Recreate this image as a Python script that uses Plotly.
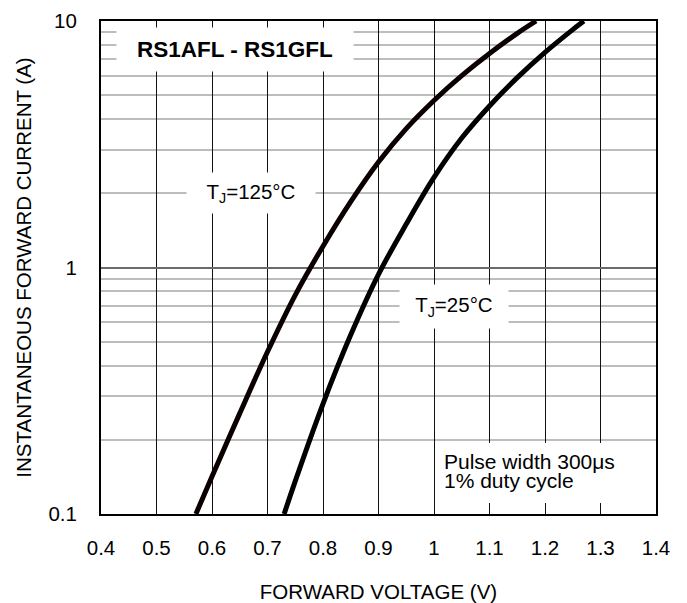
import plotly.graph_objects as go

# ---- data ----
v_125 = [0.571, 0.600, 0.650, 0.700, 0.750, 0.800, 0.850, 0.900, 0.950, 1.000, 1.050, 1.100, 1.150, 1.184]
i_125 = [0.10, 0.142, 0.256, 0.455, 0.773, 1.22, 1.85, 2.68, 3.66, 4.76, 6.00, 7.38, 8.91, 10.0]

v_25 = [0.730, 0.750, 0.800, 0.850, 0.900, 0.950, 1.000, 1.050, 1.100, 1.150, 1.200, 1.250, 1.270]
i_25 = [0.10, 0.136, 0.280, 0.533, 0.938, 1.50, 2.32, 3.35, 4.52, 5.89, 7.46, 9.23, 10.0]

x_ticks = [0.4, 0.5, 0.6, 0.7, 0.8, 0.9, 1.0, 1.1, 1.2, 1.3, 1.4]
x_ticktext = ["0.4", "0.5", "0.6", "0.7", "0.8", "0.9", "1", "1.1", "1.2", "1.3", "1.4"]
y_ticks = [0.1, 1, 10]
y_ticktext = ["0.1", "1", "10"]
y_minor = [0.2, 0.3, 0.4, 0.5, 0.6, 0.7, 0.8, 0.9, 2, 3, 4, 5, 6, 7, 8, 9]

FONT = "Liberation Sans, Arial, sans-serif"
FS = 20.5

fig = go.Figure()
fig.add_trace(go.Scatter(x=v_125, y=i_125, mode="lines",
                         line=dict(color="#0a0000", width=5, shape="spline", smoothing=1.0),
                         showlegend=False, hoverinfo="skip"))
fig.add_trace(go.Scatter(x=v_25, y=i_25, mode="lines",
                         line=dict(color="#000000", width=5, shape="spline", smoothing=1.0),
                         showlegend=False, hoverinfo="skip"))

# page shows the figure with an 8px body margin, so the figure is offset by 8px
fig.update_layout(
    width=679, height=595,
    margin=dict(l=93, r=31, t=13, b=89),
    paper_bgcolor="white", plot_bgcolor="white",
    font=dict(family=FONT, size=FS, color="#000"),
    xaxis=dict(
        range=[0.4, 1.4], tickmode="array", tickvals=x_ticks, ticktext=x_ticktext,
        showgrid=True, gridcolor="#111111", gridwidth=1,
        showline=True, linecolor="#000", linewidth=2, mirror=True,
        ticks="", ticklabelstandoff=14, zeroline=False, automargin=False,
        tickfont=dict(size=FS),
        title=dict(text="FORWARD VOLTAGE (V)", font=dict(size=FS), standoff=28),
    ),
    yaxis=dict(
        type="log", range=[-1, 1], tickmode="array", tickvals=y_ticks, ticktext=y_ticktext,
        showgrid=True, gridcolor="#6b6b6b", gridwidth=2,
        minor=dict(tickmode="array", tickvals=y_minor, showgrid=True,
                   gridcolor="#bdbdbd", gridwidth=2, ticks=""),
        showline=True, linecolor="#000", linewidth=2, mirror=True,
        ticks="", ticklabelstandoff=18, zeroline=False, automargin=False,
        tickfont=dict(size=FS),
        title=dict(text="INSTANTANEOUS FORWARD CURRENT (A)", font=dict(size=FS), standoff=11),
    ),
)

annos = [
    dict(x=0.6414, y=0.885, text="<b>RS1AFL - RS1GFL</b>", font=dict(size=22.5),
         width=230, height=37, borderpad=3),
    dict(x=0.6703, y=0.302, text="T<sub>J</sub>=125°C", font=dict(size=FS),
         width=122, height=34, borderpad=3),
    dict(x=1.036, y=-0.158, text="T<sub>J</sub>=25°C", font=dict(size=FS),
         width=102, height=37, borderpad=3),
]
for a in annos:
    fig.add_annotation(xref="x", yref="y", showarrow=False, bgcolor="white",
                       xanchor="center", yanchor="middle", **a)

# white box behind the pulse-width note (positions relative to the plot area)
fig.add_shape(type="rect", xref="paper", yref="paper",
              x0=(436 - 101) / 555, x1=(654 - 101) / 555,
              y0=(514 - 503) / 493, y1=(514 - 443) / 493,
              fillcolor="white", line=dict(width=0), layer="above")
fig.add_annotation(xref="paper", yref="paper", x=(443 - 101) / 555, y=(514 - 461) / 493,
                   text="Pulse width 300μs", showarrow=False, xanchor="left", yanchor="middle",
                   font=dict(size=21), borderpad=0)
fig.add_annotation(xref="paper", yref="paper", x=(443 - 101) / 555, y=(514 - 480) / 493,
                   text="1% duty cycle", showarrow=False, xanchor="left", yanchor="middle",
                   font=dict(size=21), borderpad=0)

fig.write_html("out.html")
